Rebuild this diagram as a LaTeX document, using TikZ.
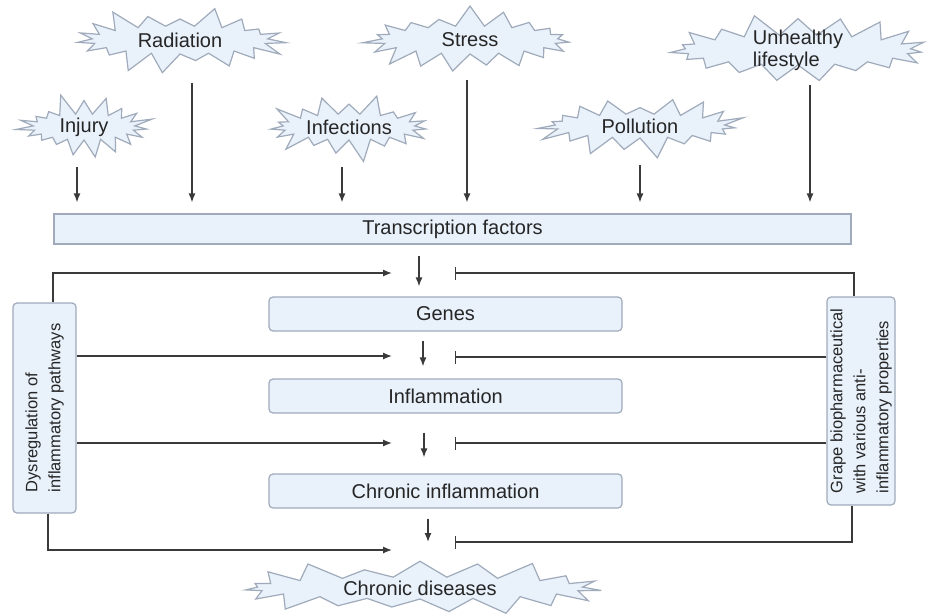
\documentclass[tikz,border=0pt]{standalone}
\usepackage{fontspec}
\setmainfont{Liberation Sans}
\usetikzlibrary{shapes.symbols,arrows.meta}

\definecolor{paleblue}{HTML}{E9F1FB}
\definecolor{edgegray}{HTML}{9FAABA}
\definecolor{inkgray}{HTML}{3A3A3A}

\tikzset{
  burst/.style={starburst, starburst points=19, starburst point height=22pt,
    draw=edgegray, fill=paleblue, line width=1.2pt, inner sep=0pt},
  stepbox/.style={draw=edgegray, fill=paleblue, line width=1.2pt, rounded corners=4pt},
  sidetext/.style={rotate=90, align=left, font=\fontsize{16.5}{23}\selectfont},
  flow/.style={draw=inkgray, line width=1.3pt, -{Latex[length=9pt,width=7pt]}},
  block/.style={draw=inkgray, line width=1.3pt, -{Bar[width=13pt,line width=1.3pt]}}
}

\begin{document}
\begin{tikzpicture}[x=1pt, y=-1pt, font=\fontsize{20}{22}\selectfont, text=black!85]
\useasboundingbox (0,0) rectangle (933,615);

% Triggers
\node[burst, minimum width=220pt, minimum height=72pt, random starburst=3, label=center:Radiation] (radiation) at (180,40) {};
\node[burst, minimum width=220pt, minimum height=72pt, random starburst=7, label=center:Stress] (stress) at (470,40) {};
\node[burst, minimum width=270pt, minimum height=74pt, random starburst=11, label={[align=left]center:Unhealthy\\lifestyle}] (lifestyle) at (798,50) {};
\node[burst, minimum width=146pt, minimum height=70pt, random starburst=5, label=center:Injury] (injury) at (84,127) {};
\node[burst, minimum width=176pt, minimum height=70pt, random starburst=9, label=center:Infections] (infections) at (349,127) {};
\node[burst, minimum width=214pt, minimum height=68pt, random starburst=13, label=center:Pollution] (pollution) at (640,126) {};

% Main chain
\node[stepbox, rounded corners=0pt, minimum width=797pt, minimum height=30pt] (tf) at (452.5,229) {Transcription factors};
\node[stepbox, minimum width=353pt, minimum height=34pt] (genes) at (445.5,314) {Genes};
\node[stepbox, minimum width=353pt, minimum height=34pt] (inflam) at (445.5,396) {Inflammation};
\node[stepbox, minimum width=353pt, minimum height=34pt] (cinfl) at (445.5,491) {Chronic inflammation};
\node[burst, minimum width=370pt, minimum height=66pt, random starburst=21, label=center:Chronic diseases] (diseases) at (420,588) {};

% Side boxes
\node[stepbox, minimum width=63pt, minimum height=210pt] (dysreg) at (44.5,408) {};
\node[sidetext] (dysregtext) at (dysreg) {Dysregulation of\\inflammatory pathways};
\node[stepbox, minimum width=68pt, minimum height=208pt] (grape) at (861,401) {};
\node[sidetext] (grapetext) at (grape) {Grape biopharmaceutical\\with various anti-\\inflammatory properties};

% Arrow ends
\coordinate (in1) at (392,273);
\coordinate (in2) at (392,356);
\coordinate (in3) at (392,443);
\coordinate (in4) at (392,550);
\coordinate (bar1) at (455,273);
\coordinate (bar2) at (455,357);
\coordinate (bar3) at (455,443);
\coordinate (bar4) at (455,542);

% Triggers into transcription factors
\foreach \src/\xpos/\gap in {injury/77/40, radiation/192/43, infections/342/40, stress/467/40, pollution/640/39, lifestyle/810/35}
  \draw[flow, shorten <=\gap pt, shorten >=11pt] (\xpos,0 |- \src) -- (\xpos,0 |- tf.north);

% Down the chain
\draw[flow, shorten <=11pt, shorten >=10pt] (419,0 |- tf.south) -- (419,0 |- genes.north);
\draw[flow, shorten <=9pt, shorten >=12pt] (423,0 |- genes.south) -- (423,0 |- inflam.north);
\draw[flow, shorten <=19pt, shorten >=16pt] (424,0 |- inflam.south) -- (424,0 |- cinfl.north);
\draw[flow, shorten <=10pt, shorten >=46pt] (428,0 |- cinfl.south) -- (428,0 |- diseases);

% Dysregulation
\draw[flow] ([xshift=8.5pt]dysreg.north) |- (in1);
\draw[flow] (dysreg.east |- in2) -- (in2);
\draw[flow] (dysreg.east |- in3) -- (in3);
\draw[flow] ([xshift=3.5pt]dysreg.south) |- (in4);

% Grape inhibition
\draw[block] ([xshift=-7pt]grape.north) |- (bar1);
\draw[block] (grape.west |- bar2) -- (bar2);
\draw[block] (grape.west |- bar3) -- (bar3);
\draw[block] ([xshift=-9pt]grape.south) |- (bar4);

\end{tikzpicture}
\end{document}
